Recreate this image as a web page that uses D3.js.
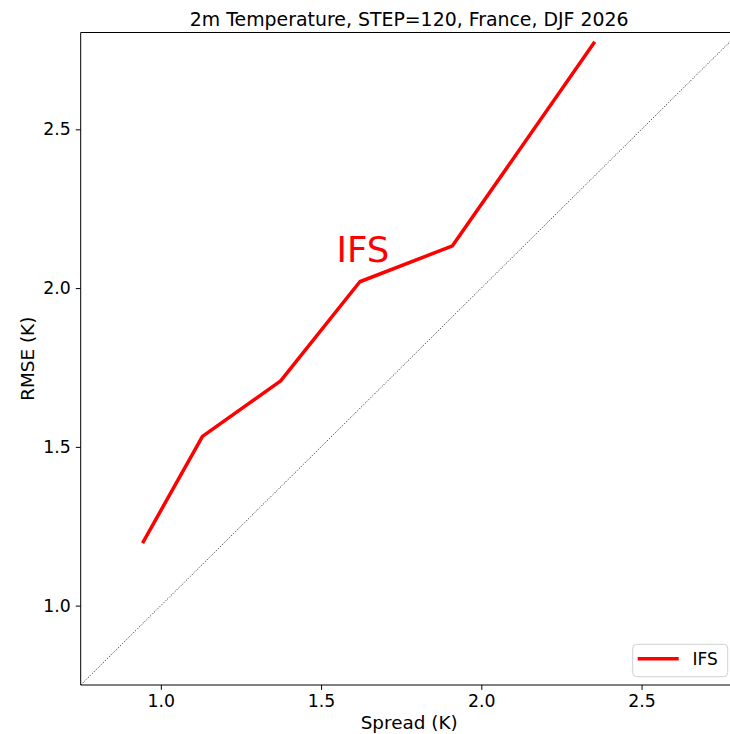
<!DOCTYPE html>
<html>
<head>
<meta charset="utf-8">
<script src="https://cdn.jsdelivr.net/npm/d3@7"></script>
<style>
  body { margin: 0; background: #fff; }
  svg { display: block; }
  text { font-family: "DejaVu Sans", sans-serif; fill: #000; }
</style>
</head>
<body>
<svg id="chart" width="730" height="734"></svg>
<script>
const titleText = "2m Temperature, STEP=120, France, DJF 2026";
const seriesName = "IFS";
const spread = [0.943, 1.130, 1.374, 1.621, 1.910, 2.354];
const rmse   = [1.197, 1.533, 1.708, 2.020, 2.133, 2.776];
const xTicks = [1.0, 1.5, 2.0, 2.5];
const yTicks = [1.0, 1.5, 2.0, 2.5];
const xDomain = [0.75, 2.8];
const yDomain = [0.75, 2.805];
const xLabel = "Spread (K)";
const yLabel = "RMSE (K)";

(function () {
const svg = d3.select("#chart");
const mL = 80.7, mR = 737.7, mT = 32.5, mB = 685;
const x = d3.scaleLinear().domain(xDomain).range([mL, mR]);
const y = d3.scaleLinear().domain(yDomain).range([mB, mT]);

const defs = svg.append("defs");
defs.append("clipPath").attr("id", "clip").append("rect")
  .attr("x", mL).attr("y", mT).attr("width", mR - mL).attr("height", mB - mT);

const plot = svg.append("g").attr("clip-path", "url(#clip)");

// y = x reference line
const lo = Math.min(xDomain[0], yDomain[0]), hi = Math.max(xDomain[1], yDomain[1]);
plot.append("line")
  .attr("x1", x(lo)).attr("y1", y(lo)).attr("x2", x(hi)).attr("y2", y(hi))
  .attr("stroke", "#000").attr("stroke-width", 0.9).attr("stroke-dasharray", "1,1.65");

const pts = spread.map((s, i) => [s, rmse[i]]);
plot.append("path")
  .datum(pts)
  .attr("d", d3.line().x(d => x(d[0])).y(d => y(d[1])))
  .attr("fill", "none").attr("stroke", "#ff0000").attr("stroke-width", 3.5)
  .attr("stroke-linejoin", "round").attr("stroke-linecap", "butt");

// in-plot label near 4th point
plot.append("text")
  .attr("x", x(spread[3]) + 3).attr("y", y(rmse[3]) - 20)
  .attr("text-anchor", "middle").attr("font-size", 35.5)
  .style("fill", "#ff0000").text(seriesName);

// axes
const xAxis = d3.axisBottom(x).tickValues(xTicks).tickFormat(d3.format(".1f")).tickSize(4.9).tickPadding(5);
const yAxis = d3.axisLeft(y).tickValues(yTicks).tickFormat(d3.format(".1f")).tickSize(4.9).tickPadding(5);

const gx = svg.append("g").attr("transform", `translate(0,${mB})`).call(xAxis);
const gy = svg.append("g").attr("transform", `translate(${mL},0)`).call(yAxis);
[gx, gy].forEach(g => {
  g.select(".domain").remove();
  g.selectAll(".tick line").attr("stroke", "#000").attr("stroke-width", 1);
  g.selectAll(".tick text").attr("font-size", 17.3).style("font-family", '"DejaVu Sans", sans-serif').style("fill", "#000");
});

// spines
[[mL, mT, mL, mB], [mL, mB, mR, mB], [mL, mT, mR, mT], [mR, mT, mR, mB]].forEach(s => {
  svg.append("line").attr("x1", s[0]).attr("y1", s[1]).attr("x2", s[2]).attr("y2", s[3])
    .attr("stroke", "#000").attr("stroke-width", 1);
});

// title
svg.append("text").attr("x", (mL + mR) / 2).attr("y", 26)
  .attr("text-anchor", "middle").attr("font-size", 18.9).text(titleText);

// axis labels
svg.append("text").attr("x", (mL + mR) / 2).attr("y", 729)
  .attr("text-anchor", "middle").attr("font-size", 18.4).text(xLabel);
svg.append("text").attr("transform", `translate(33.5,${(mT + mB) / 2}) rotate(-90)`)
  .attr("text-anchor", "middle").attr("font-size", 18.4).text(yLabel);

// legend
const lg = svg.append("g");
lg.append("rect").attr("x", 632.7).attr("y", 644.3).attr("width", 95).attr("height", 32.4)
  .attr("rx", 4).attr("fill", "#fff").attr("fill-opacity", 0.8).attr("stroke", "#d0d0d0").attr("stroke-width", 1);
lg.append("line").attr("x1", 637.7).attr("x2", 678.7).attr("y1", 658.7).attr("y2", 658.7)
  .attr("stroke", "#ff0000").attr("stroke-width", 3.5);
lg.append("text").attr("x", 692.5).attr("y", 665).attr("font-size", 17).text(seriesName);
})();
</script>
</body>
</html>
